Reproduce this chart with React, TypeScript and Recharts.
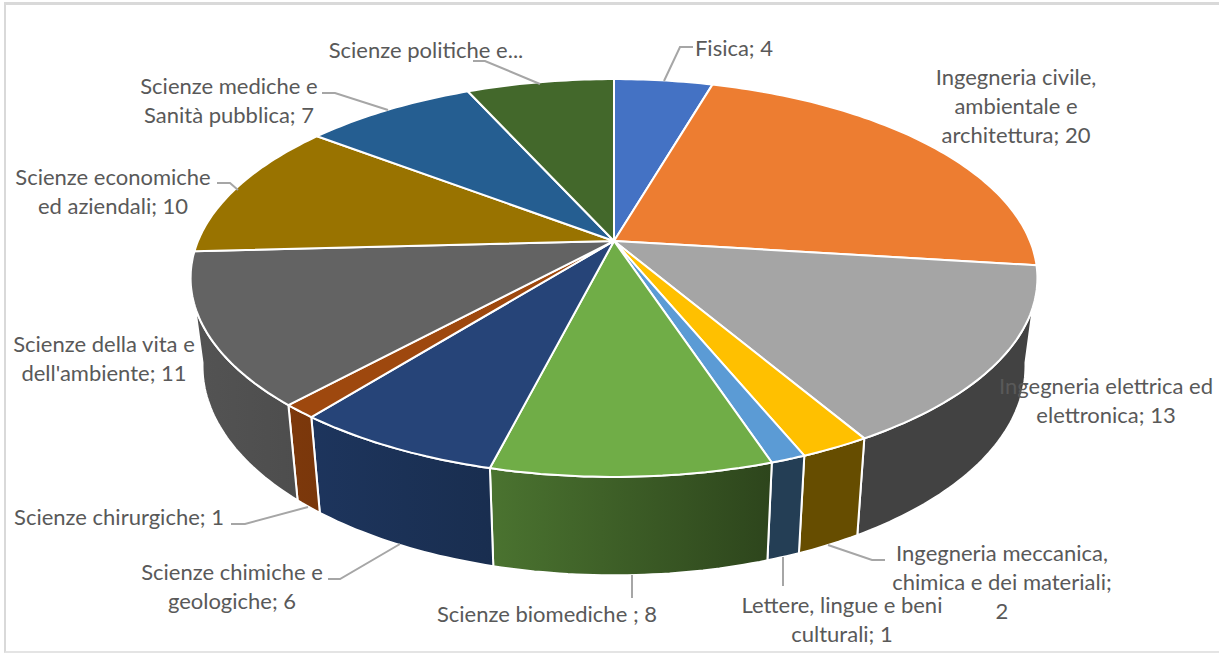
import { Pie, PieChart } from "recharts"

const categories = [
  "Fisica",
  "Ingegneria civile, ambientale e architettura",
  "Ingegneria elettrica ed elettronica",
  "Ingegneria meccanica, chimica e dei materiali",
  "Lettere, lingue e beni culturali",
  "Scienze biomediche",
  "Scienze chimiche e geologiche",
  "Scienze chirurgiche",
  "Scienze della vita e dell'ambiente",
  "Scienze economiche ed aziendali",
  "Scienze mediche e Sanità pubblica",
  "Scienze politiche e...",
]
const values = [4, 20, 13, 2, 1, 8, 6, 1, 11, 10, 7, 6]
const sliceColors = [
  "#4472C4",
  "#ED7D31",
  "#A5A5A5",
  "#FFC000",
  "#5B9BD5",
  "#70AD47",
  "#264478",
  "#9E480E",
  "#636363",
  "#997300",
  "#255E91",
  "#43682B",
]
const labelLines = [
  ["Fisica; 4"],
  ["Ingegneria civile,", "ambientale e", "architettura; 20"],
  ["Ingegneria elettrica ed", "elettronica; 13"],
  ["Ingegneria meccanica,", "chimica e dei materiali;", "2"],
  ["Lettere, lingue e beni", "culturali; 1"],
  ["Scienze biomediche ; 8"],
  ["Scienze chimiche e", "geologiche; 6"],
  ["Scienze chirurgiche; 1"],
  ["Scienze della vita e", "dell'ambiente; 11"],
  ["Scienze economiche", "ed aziendali; 10"],
  ["Scienze mediche e", "Sanità pubblica; 7"],
  ["Scienze politiche e..."],
]

// label centre x, first line y, then the leader polyline (empty = no leader)
const labelSpots: { x: number; y: number; leader: string }[] = [
  { x: 734, y: 47, leader: "693,47 680,47 664,81" },
  { x: 1016, y: 76, leader: "" },
  { x: 1106, y: 385, leader: "" },
  { x: 1002, y: 552, leader: "885,560 872,560 828,545" },
  { x: 842, y: 604, leader: "783,586 783,557" },
  { x: 547, y: 613, leader: "632,598 632,575" },
  { x: 232, y: 571, leader: "328,579 340,579 400,544" },
  { x: 119, y: 516, leader: "231,524 245,524 308,507" },
  { x: 104, y: 343, leader: "" },
  { x: 113, y: 176, leader: "217,183 230,183 238,190" },
  { x: 229, y: 85, leader: "322,93 335,93 388,110" },
  { x: 426, y: 49, leader: "473,61 485,61 540,84" },
]

const tableData = categories.map((name, i) => ({
  name,
  value: values[i],
  fill: sliceColors[i],
}))

const CX = 614
const CY = 241
// tilted disc: projection of the flat pie, with a little perspective
const HALF_W = 416
const HALF_H = 192
const PERSP = 0.186
// bottom ring of the wall
const WALL_SCALE = 0.972
const FRONT_MIN = 99.9
const FRONT_MAX = 260.1

const rad = (d: number) => (d * Math.PI) / 180

// clock is degrees clockwise from 12 o'clock
const rimPoint = (clock: number) => {
  const u = Math.sin(rad(clock))
  const v = Math.cos(rad(clock))
  const w = 1 + PERSP * v
  return [CX + (HALF_W * u) / w, CY - (HALF_H * v) / w]
}

const wallPoint = (clock: number) => {
  const [x, y] = rimPoint(clock)
  const drop = 85 - 20 * Math.cos(rad(clock))
  return [CX + WALL_SCALE * (x - CX), CY + WALL_SCALE * (y - CY) + drop]
}

const arcPoints = (from: number, to: number, at: (c: number) => number[]) => {
  const steps = Math.max(2, Math.ceil(Math.abs(to - from)))
  const pts: number[][] = []
  for (let i = 0; i <= steps; i++) pts.push(at(from + ((to - from) * i) / steps))
  return pts
}

const toPath = (pts: number[][]) =>
  pts.map((p, i) => `${i ? "L" : "M"}${p[0].toFixed(1)} ${p[1].toFixed(1)}`).join(" ")

const shade = (hex: string, f: number) => {
  const n = parseInt(hex.slice(1), 16)
  const c = [n >> 16, (n >> 8) & 255, n & 255].map((x) => Math.round(x * f))
  return `rgb(${c[0]},${c[1]},${c[2]})`
}

const TopFace = (props: any) => {
  const from = 90 - props.startAngle
  const to = 90 - props.endAngle
  const d = `M${CX} ${CY} ` + toPath(arcPoints(from, to, rimPoint)).replace("M", "L") + " Z"
  return <path d={d} fill={props.fill} stroke="#fff" strokeWidth={2} strokeLinejoin="round" />
}

const WallFace = (props: any) => {
  const from = Math.max(90 - props.startAngle, FRONT_MIN)
  const to = Math.min(90 - props.endAngle, FRONT_MAX)
  if (to <= from) return <g />
  const top = arcPoints(from, to, rimPoint)
  const bottom = arcPoints(from, to, wallPoint).reverse()
  const id = `wall-${props.index}`
  return (
    <g>
      <defs>
        <linearGradient id={id} gradientUnits="userSpaceOnUse" x1={200} x2={772} y1={0} y2={0}>
          <stop offset="0" stopColor={shade(props.fill, 0.84)} />
          <stop offset="0.5" stopColor={shade(props.fill, 0.67)} />
          <stop offset="1" stopColor={shade(props.fill, 0.4)} />
        </linearGradient>
      </defs>
      <path d={toPath([...top, ...bottom]) + " Z"} fill={`url(#${id})`} stroke="#fff" strokeWidth={2} strokeLinejoin="round" />
    </g>
  )
}

const SliceLabel = (props: any) => {
  const spot = labelSpots[props.index]
  const lines = labelLines[props.index]
  return (
    <g>
      {spot.leader && <polyline points={spot.leader} fill="none" stroke="#A6A6A6" strokeWidth={2} />}
      <text
        textAnchor="middle"
        dominantBaseline="central"
        fontFamily="Lato, 'Open Sans', sans-serif"
        fontSize={22}
        fill="#595959"
      >
        {lines.map((line, i) => (
          <tspan key={i} x={spot.x} y={spot.y + i * 29}>
            {line}
          </tspan>
        ))}
      </text>
    </g>
  )
}

export default function App() {
  return (
    <div style={{ position: "absolute", left: 0, top: 0, width: 1219, height: 653, background: "#fff" }}>
      <div
        style={{
          position: "absolute",
          left: 4,
          top: 2,
          width: 1215,
          height: 651,
          boxSizing: "border-box",
          borderLeft: "2px solid #D9D9D9",
          borderTop: "3px solid #D9D9D9",
          borderBottom: "2px solid #E4E4E4",
        }}
      />
      <div style={{ position: "absolute", left: 0, top: 0 }}>
        <PieChart width={1219} height={653} margin={{ top: 0, right: 0, bottom: 0, left: 0 }}>
          <Pie
            data={tableData}
            dataKey="value"
            cx={CX}
            cy={CY}
            outerRadius={200}
            startAngle={90}
            endAngle={-270}
            isAnimationActive={false}
            shape={WallFace}
            label={false}
            labelLine={false}
          />
          <Pie
            data={tableData}
            dataKey="value"
            cx={CX}
            cy={CY}
            outerRadius={200}
            startAngle={90}
            endAngle={-270}
            isAnimationActive={false}
            shape={TopFace}
            label={SliceLabel}
            labelLine={false}
          />
        </PieChart>
      </div>
    </div>
  )
}
